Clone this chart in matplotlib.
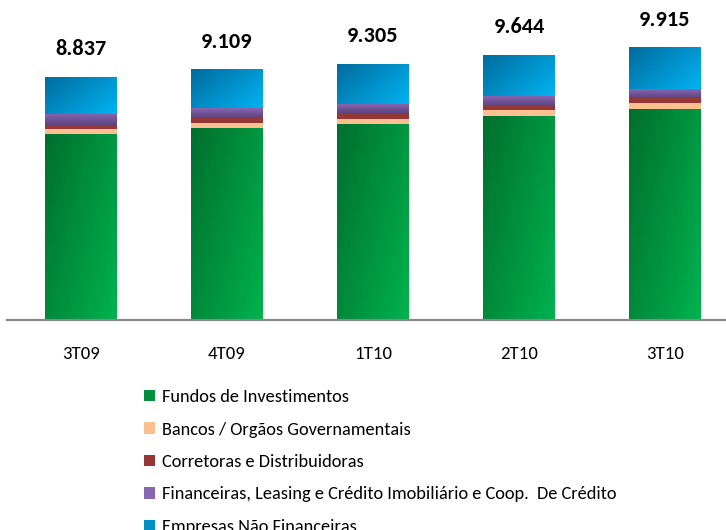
import numpy as np
import matplotlib.pyplot as plt
from matplotlib import font_manager
from matplotlib.colors import LinearSegmentedColormap
from matplotlib.patches import Patch

trimestres = ["3T09", "4T09", "1T10", "2T10", "3T10"]
totais = [8837, 9109, 9305, 9644, 9915]
fundos = [6760, 6975, 7130, 7430, 7690]
bancos = [170, 180, 190, 215, 205]
corretoras = [145, 205, 215, 145, 190]
financeiras = [400, 340, 325, 360, 320]
empresas = [t - f - b - c - fi for t, f, b, c, fi in
            zip(totais, fundos, bancos, corretoras, financeiras)]

nomes = ["Fundos de Investimentos",
         "Bancos / Orgãos Governamentais",
         "Corretoras e Distribuidoras",
         "Financeiras, Leasing e Crédito Imobiliário e Coop.  De Crédito",
         "Empresas Não Financeiras"]

instaladas = {f.name for f in font_manager.fontManager.ttflist}
fonte = "Carlito" if "Carlito" in instaladas else "Liberation Sans"
plt.rcParams['font.family'] = [fonte, 'DejaVu Sans']

# (cor escura, cor clara, tipo de degradê)
estilos = [("#006f2e", "#00b24e", "diag"),
           ("#fac090", "#fac090", "flat"),
           ("#953735", "#953735", "flat"),
           ("#8866b0", "#5c4382", "vert"),
           ("#006c9e", "#00b2f2", "diag")]

fig = plt.figure(figsize=(7.26, 5.30), dpi=100)
ax = fig.add_axes([7/726, 210/530, 719/726, 316/530])

x = np.arange(len(trimestres))
largura = 0.493
base = np.zeros(len(x))
series = [fundos, bancos, corretoras, financeiras, empresas]

gy, gx = np.mgrid[0:1:60j, 0:1:60j]
for serie, (c1, c2, tipo) in zip(series, estilos):
    barras = ax.bar(x, serie, largura, bottom=base, color=c2, linewidth=0, zorder=2)
    if tipo != "flat":
        cmap = LinearSegmentedColormap.from_list("g", [c1, c2])
        if tipo == "diag":
            grad = 0.6 * gx + 0.4 * gy
        else:
            grad = gy
        for p in barras:
            x0, y0 = p.get_x(), p.get_y()
            im = ax.imshow(grad, cmap=cmap, origin='upper',
                           extent=[x0, x0 + p.get_width(), y0, y0 + p.get_height()],
                           aspect='auto', zorder=3, vmin=0, vmax=1, interpolation='bilinear')
            im.set_clip_path(p)
    base += np.array(serie)

for xi, t in zip(x, totais):
    ax.annotate(f"{t/1000:.3f}", (xi, t), xytext=(0, 20), textcoords='offset points',
                ha='center', va='center', fontsize=16, fontweight='bold')

ax.set_xlim(-0.507, 4.418)
ax.set_ylim(0, 11490)
ax.set_yticks([])
ax.set_xticks(x)
ax.set_xticklabels(trimestres, fontsize=13.5)
ax.tick_params(axis='x', length=0, pad=19)
for s in ['top', 'right', 'left']:
    ax.spines[s].set_visible(False)
ax.spines['bottom'].set_color('#888888')
ax.spines['bottom'].set_linewidth(1.6)
ax.spines['bottom'].set_zorder(4)

handles = [Patch(facecolor=c2 if t == "diag" else c1, edgecolor='none') for c1, c2, t in estilos]
handles[0] = Patch(facecolor="#009040", edgecolor='none')
handles[4] = Patch(facecolor="#0090c8", edgecolor='none')
fig.legend(handles, nomes, loc='upper left', bbox_to_anchor=(144/726, 1 - 389/530),
           frameon=False, fontsize=13.2, handlelength=0.6, handleheight=0.6,
           handletextpad=0.4, labelspacing=0.9, borderaxespad=0, borderpad=0)

fig.savefig("out.png", dpi=100)
